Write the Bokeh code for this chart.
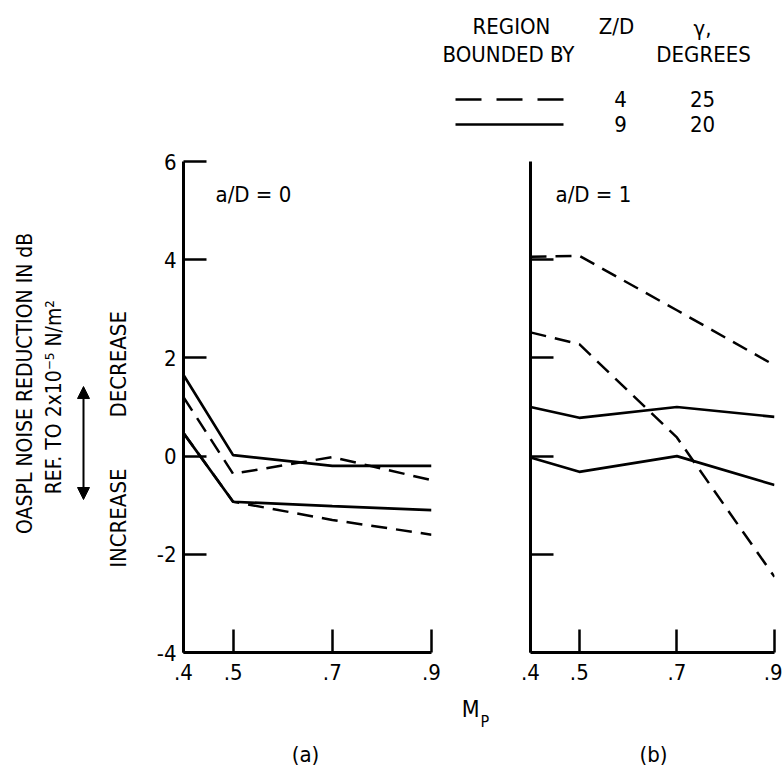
import math
from bokeh.plotting import figure
from bokeh.models import Range1d, FixedTicker, Label, Arrow, NormalHead
from bokeh.layouts import column, row
from bokeh.embed import file_html
from bokeh.resources import INLINE

# ---------------- data ----------------
mach = [0.4, 0.5, 0.7, 0.9]

# panel (a): a/D = 0
a_dash_upper = [1.2, -0.36, -0.02, -0.49]
a_dash_lower = [0.47, -0.93, -1.3, -1.6]
a_solid_upper = [1.65, 0.02, -0.2, -0.2]
a_solid_lower = [0.47, -0.93, -1.02, -1.1]

# panel (b): a/D = 1
b_dash_upper = [4.06, 4.08, 2.97, 1.85]
b_dash_lower = [2.52, 2.28, 0.38, -2.46]
b_solid_upper = [1.0, 0.78, 1.0, 0.8]
b_solid_lower = [-0.03, -0.32, 0.0, -0.59]

x_ticks = [0.4, 0.5, 0.7, 0.9]
x_tick_labels = [".4", ".5", ".7", ".9"]
y_ticks_a = [-4, -2, 0, 2, 4, 6]
y_tick_labels_a = ["-4", "-2", "0", "2", "4", "6"]
y_ticks_b = [-2, 0, 2, 4]

legend_styles = ["dashed", "solid"]
legend_zd = ["4", "9"]
legend_gamma = ["25", "20"]

FONT = "DejaVu Sans Condensed"
DASH = "16 9"

# ---------------- helpers ----------------
def style_panel(p, yticks, ylabels):
    p.outline_line_color = None
    p.grid.visible = False
    p.background_fill_color = "white"
    p.border_fill_color = "white"
    p.xaxis.ticker = FixedTicker(ticks=x_ticks)
    p.xaxis.major_label_overrides = dict(zip(x_ticks, x_tick_labels))
    p.yaxis.ticker = FixedTicker(ticks=yticks)
    p.yaxis.major_label_overrides = dict(zip(yticks, ylabels))
    for ax in p.axis:
        ax.axis_line_width = 3
        ax.axis_line_color = "black"
        ax.major_tick_in = 23
        ax.major_tick_out = 0
        ax.major_tick_line_width = 2.5
        ax.major_tick_line_color = "black"
        ax.minor_tick_line_color = None
        ax.major_label_text_font = FONT
        ax.major_label_text_font_size = "22px"
        ax.major_label_text_color = "black"
    p.xaxis.major_label_standoff = 11
    p.yaxis.major_label_standoff = 7


ROW_H = 552  # page y 140 .. 692


def make_panel(width, left, right):
    return figure(width=width, height=ROW_H, x_range=Range1d(0.4, 0.9), y_range=Range1d(-4, 6),
                  output_backend="svg", toolbar_location=None,
                  min_border_left=left, min_border_right=right,
                  min_border_top=21, min_border_bottom=40)


def text_fig(w, h):
    f = figure(width=w, height=h, x_range=Range1d(0, w), y_range=Range1d(0, h),
               output_backend="svg", toolbar_location=None,
               x_axis_location=None, y_axis_location=None, min_border=0)
    f.outline_line_color = None
    f.grid.visible = False
    return f


def label(p, text, x, y, size="22px", align="center", baseline="middle", angle=0.0):
    p.add_layout(Label(x=x, y=y, text=text, text_font=FONT, text_font_size=size,
                       text_align=align, text_baseline=baseline, angle=angle,
                       text_color="black"))

# page-pixel -> panel data (for in-frame text only)
ax_ = lambda xp: 0.4 + (xp - 183) / 496.0
bx_ = lambda xp: 0.4 + (xp - 530) / 488.0
ay_ = lambda yp: 6 - (yp - 161) / 49.1

# ---------------- legend (top strip, page y 0..140) ----------------
LEG_H = 140
leg = text_fig(782, LEG_H)
ly = lambda yp: LEG_H - yp
label(leg, "REGION", 511, ly(26))
label(leg, "BOUNDED BY", 508, ly(54))
label(leg, "Z/D", 616, ly(26))
label(leg, "\u03b3,", 702, ly(28))
label(leg, "DEGREES", 703, ly(54))
row_y = [99, 124]
for style, zd, g, yy in zip(legend_styles, legend_zd, legend_gamma, row_y):
    if style == "dashed":
        leg.segment(x0=[455], y0=[ly(yy)], x1=[565], y1=[ly(yy)], line_color="black",
                    line_width=2.6, line_dash="26 15")
    else:
        leg.segment(x0=[455], y0=[ly(yy)], x1=[563], y1=[ly(yy)], line_color="black",
                    line_width=2.6)
    label(leg, zd, 620, ly(yy - 1))
    label(leg, g, 702, ly(yy - 1))

# ---------------- left label strip (page x 0..150, y 140..692) ----------------
left = text_fig(150, ROW_H)
lyy = lambda yp: 692 - yp
label(left, "OASPL NOISE REDUCTION IN  dB", 24, lyy(386), size="21px", angle=math.pi / 2)
label(left, "REF. TO 2x10\u207b\u2075 N/m\u00b2", 53, lyy(405), size="21px", angle=math.pi / 2)
label(left, "DECREASE", 118, lyy(368), size="22px", angle=math.pi / 2)
label(left, "INCREASE", 118, lyy(541), size="22px", angle=math.pi / 2)
left.add_layout(Arrow(x_start=83, y_start=lyy(520), x_end=83, y_end=lyy(393),
                      line_width=2, line_color="black",
                      start=NormalHead(size=12, fill_color="black", line_color="black"),
                      end=NormalHead(size=12, fill_color="black", line_color="black")))

# ---------------- panel (a): page x 150..480 ----------------
pa = make_panel(330, 33, 49)
style_panel(pa, y_ticks_a, y_tick_labels_a)
pa.line(mach, a_dash_upper, line_color="black", line_width=2.5, line_dash=DASH)
pa.line(mach, a_dash_lower, line_color="black", line_width=2.5, line_dash=DASH)
pa.line(mach, a_solid_upper, line_color="black", line_width=2.7)
pa.line(mach, a_solid_lower, line_color="black", line_width=2.7)
label(pa, "a/D = 0", ax_(215), ay_(194), align="left")

# ---------------- panel (b): page x 480..782 ----------------
pb = make_panel(302, 50, 8)
style_panel(pb, y_ticks_b, [""] * len(y_ticks_b))
pb.line(mach, b_dash_upper, line_color="black", line_width=2.5, line_dash=DASH)
pb.line(mach, b_dash_lower, line_color="black", line_width=2.5, line_dash=DASH)
pb.line(mach, b_solid_upper, line_color="black", line_width=2.7)
pb.line(mach, b_solid_lower, line_color="black", line_width=2.7)
label(pb, "a/D = 1", bx_(555), ay_(194), align="left")

# ---------------- bottom strip (page y 692..770) ----------------
BOT_H = 78
bot = text_fig(782, BOT_H)
by = lambda yp: 770 - yp
label(bot, "M", 479, by(708), size="23px", align="right")
label(bot, "P", 480, by(721), size="16px", align="left")
label(bot, "(a)", 305, by(754), size="22px")
label(bot, "(b)", 653, by(754), size="22px")

layout = column(leg, row(left, pa, pb), bot)
open("out.html", "w").write(file_html(layout, INLINE))
